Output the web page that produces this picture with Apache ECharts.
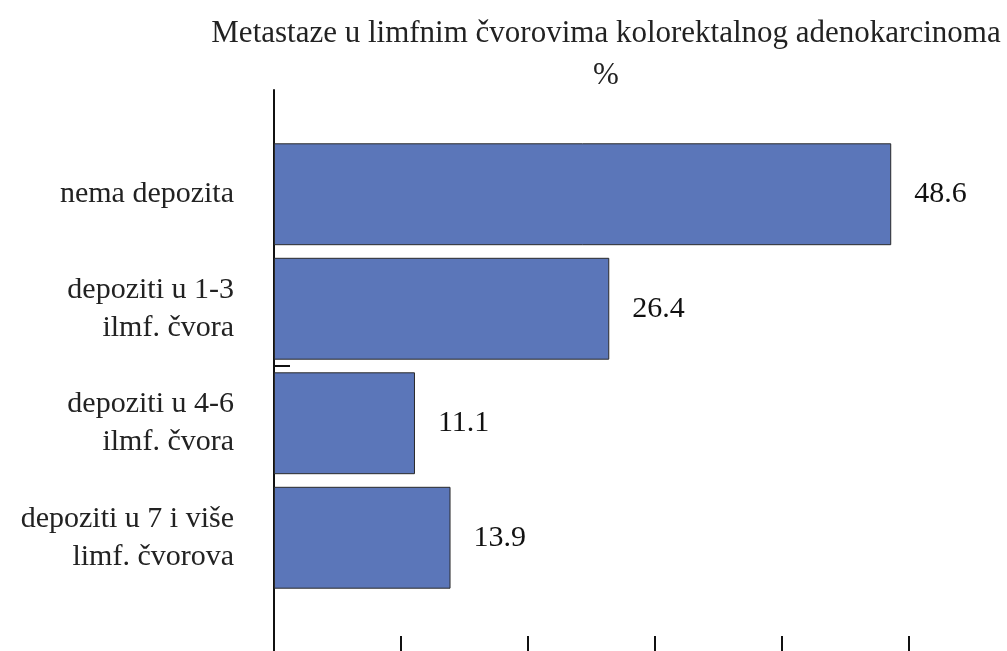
<!DOCTYPE html>
<html>
<head>
<meta charset="utf-8">
<script src="https://cdn.jsdelivr.net/npm/echarts@6/dist/echarts.min.js"></script>
<style>
    html, body { margin: 0; padding: 0; background: #fff; }
    #chart { width: 1007px; height: 651px; }
</style>
</head>
<body>
<div id="chart"></div>
<script>
    // podaci
    var categories = ['nema depozita', 'depoziti u 1-3\nilmf. čvora', 'depoziti u 4-6\nilmf. čvora', 'depoziti u 7 i više\nlimf. čvorova'];
    var values = [48.6, 26.4, 11.1, 13.9];
    var xTicks = [0, 10, 20, 30, 40, 50];

    var font = '"Liberation Serif", "DejaVu Serif", serif';
    var myChart = echarts.init(document.getElementById('chart'));

    // pomocna os preko cijele visine, u jedinicama kategorija (granica 1-3 / 4-6 = 2)
    var bandTop = -47 / 114.5;
    var bandBottom = 4 + 56 / 114.5;

    var option = {
        backgroundColor: '#fff',
        animation: false,
        title: {
            text: 'Metastaze u limfnim čvorovima kolorektalnog adenokarcinoma\n%',
            left: 601,
            textAlign: 'center',
            top: 8,
            textStyle: {
                fontFamily: font,
                fontWeight: 'normal',
                fontSize: 31,
                lineHeight: 42,
                color: '#222'
            }
        },
        grid: [
            { left: 274, right: 98, top: 137, bottom: 56 },
            { left: 274, right: 98, top: 90, bottom: 0 }
        ],
        xAxis: [
            {
                gridIndex: 0, type: 'value',
                min: xTicks[0], max: xTicks[xTicks.length - 1], interval: 10,
                show: false
            },
            {
                gridIndex: 1, type: 'value', position: 'bottom',
                min: xTicks[0], max: xTicks[xTicks.length - 1], interval: 10,
                axisLine: { show: false, onZero: false },
                axisTick: { show: true, inside: true, length: 15, lineStyle: { color: '#111', width: 2 } },
                axisLabel: { show: false },
                splitLine: { show: false }
            }
        ],
        yAxis: [
            {
                gridIndex: 0, type: 'category', inverse: true,
                data: categories,
                axisLine: { show: false },
                axisTick: { show: false },
                axisLabel: {
                    margin: 40,
                    fontFamily: font,
                    fontSize: 30,
                    lineHeight: 38,
                    color: '#222'
                }
            },
            {
                gridIndex: 1, type: 'value', inverse: true,
                min: bandTop, max: bandBottom,
                axisLine: { show: true, onZero: false, lineStyle: { color: '#111', width: 2 } },
                axisTick: {
                    show: true, inside: true, length: 16,
                    customValues: [2],
                    lineStyle: { color: '#111', width: 2 }
                },
                axisLabel: { show: false },
                splitLine: { show: false }
            }
        ],
        series: [
            {
                type: 'bar',
                xAxisIndex: 0,
                yAxisIndex: 0,
                data: values,
                barCategoryGap: '11%',
                itemStyle: {
                    color: '#5b76b9',
                    borderColor: '#2a2a2a',
                    borderWidth: 1
                },
                label: {
                    show: true,
                    position: 'right',
                    distance: 23,
                    fontFamily: font,
                    fontSize: 30,
                    color: '#111'
                }
            }
        ]
    };

    myChart.setOption(option);
</script>
</body>
</html>
